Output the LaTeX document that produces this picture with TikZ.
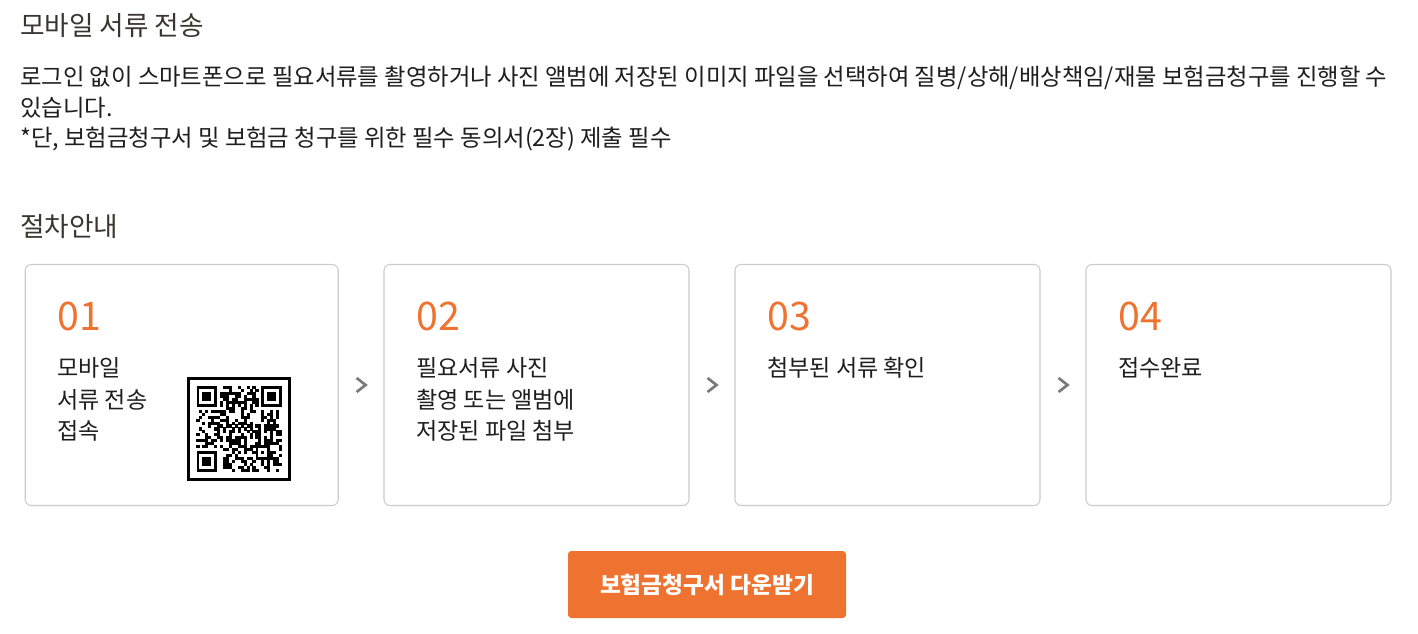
\documentclass[tikz,border=0pt]{standalone}
\usepackage{fontspec}
\setmainfont{Noto Sans CJK KR}
\usetikzlibrary{calc}
\definecolor{orng}{HTML}{EE7330}
\definecolor{boxline}{HTML}{CCCCCC}
\definecolor{headc}{HTML}{3A3532}
\definecolor{bodyc}{HTML}{1E1E1E}
\definecolor{chevc}{HTML}{7A7A7A}
\tikzset{
  txt/.style={anchor=west, inner sep=0pt, text=bodyc},
  headtxt/.style={txt, text=headc, font=\fontsize{20}{24}\selectfont},
  bodytxt/.style={txt, font=\fontsize{17.5}{21}\selectfont},
  steptxt/.style={txt, font=\fontsize{17.3}{21}\selectfont},
  numtxt/.style={txt, text=orng, font=\fontsize{29.5}{32}\selectfont},
  stepbox/.style={draw=boxline, line width=0.8pt, rounded corners=4.5pt,
    minimum width=228.75pt, minimum height=180.75pt, inner sep=0pt},
  chev/.style={draw=chevc, line width=2pt, line join=miter},
  btn/.style={fill=orng, rounded corners=2.5pt, text=white, inner sep=0pt,
    minimum width=208.5pt, minimum height=50.25pt,
    font=\fontsize{17}{20}\selectfont\bfseries},
  qrframe/.style={draw=black, line width=2.25pt, minimum size=75.4pt, inner sep=0pt}
}
\begin{document}
\begin{tikzpicture}[x=0.75pt, y=-0.75pt]
\useasboundingbox[fill=white] (0,0) rectangle (1418,634);

% headings and paragraph
\node[headtxt] (title) at (20,26) {모바일 서류 전송};
\node[bodytxt] (p1) at (20,78) {로그인 없이 스마트폰으로 필요서류를 촬영하거나 사진 앨범에 저장된 이미지 파일을 선택하여 질병/상해/배상책임/재물 보험금청구를 진행할 수};
\node[bodytxt] (p2) at (20,108) {있습니다.};
\node[bodytxt] (p3) at (20,139.5) {*단, 보험금청구서 및 보험금 청구를 위한 필수 동의서(2장) 제출 필수};
\node[headtxt] (proc) at (20,227) {절차안내};

% step boxes
\node[stepbox, minimum width=234.75pt] (s1) at (181.75,385) {};
\node[stepbox] (s2) at (536.5,385) {};
\node[stepbox] (s3) at (887.5,385) {};
\node[stepbox] (s4) at (1238.5,385) {};

% numbers
\node[numtxt] (n1) at (57,316) {01};
\node[numtxt] (n2) at (416,316) {02};
\node[numtxt] (n3) at (767,316) {03};
\node[numtxt] (n4) at (1118,316) {04};

% step texts
\node[steptxt] (t1a) at (57,368) {모바일};
\node[steptxt] (t1b) at (57,399.5) {서류 전송};
\node[steptxt] (t1c) at (57,431) {접속};
\node[steptxt] (t2a) at (416,368) {필요서류 사진};
\node[steptxt] (t2b) at (416,399.5) {촬영 또는 앨범에};
\node[steptxt] (t2c) at (416,431) {저장된 파일 첨부};
\node[steptxt] (t3a) at (767,368) {첨부된 서류 확인};
\node[steptxt] (t4a) at (1118,368) {접수완료};

% chevrons between boxes
\foreach \a/\b in {s1/s2, s2/s3, s3/s4}{
  \draw[chev] ($(\a.east)!0.5!(\b.west)$) ++(-4.5,-7) -- ++(9,7) -- ++(-9,7);
}

% QR code
\node[qrframe] (qr) at (239.25,429) {};
\begin{scope}[shift={(196.5,386.2)}, x=2.2125pt, y=-2.2125pt]
  \pgfmathsetseed{4242}
  \foreach \i in {0,...,28}{
    \foreach \j in {0,...,28}{
      \pgfmathtruncatemacro\fz{((\i<8)&&(\j<8)) || ((\i>20)&&(\j<8)) || ((\i<8)&&(\j>20)) || ((\i>19)&&(\i<25)&&(\j>19)&&(\j<25))}
      \ifnum\fz=0
        \pgfmathtruncatemacro\tm{(\i==6)||(\j==6)}
        \ifnum\tm=1
          \pgfmathtruncatemacro\dk{1-mod(\i+\j,2)}
        \else
          \pgfmathrandominteger{\dk}{0}{1}
        \fi
        \ifnum\dk=1
          \fill[black] (\i-0.03,\j-0.03) rectangle (\i+1.03,\j+1.03);
        \fi
      \fi
    }
  }
  \foreach \ox/\oy in {0/0, 22/0, 0/22}{
    \fill[black] (\ox,\oy) rectangle ++(7,7);
    \fill[white] (\ox+1,\oy+1) rectangle ++(5,5);
    \fill[black] (\ox+2,\oy+2) rectangle ++(3,3);
  }
  \fill[black] (20,20) rectangle ++(5,5);
  \fill[white] (21,21) rectangle ++(3,3);
  \fill[black] (22,22) rectangle ++(1,1);
\end{scope}

% download button
\node[btn] (dl) at (707,584.5) {보험금청구서 다운받기};
\end{tikzpicture}
\end{document}
